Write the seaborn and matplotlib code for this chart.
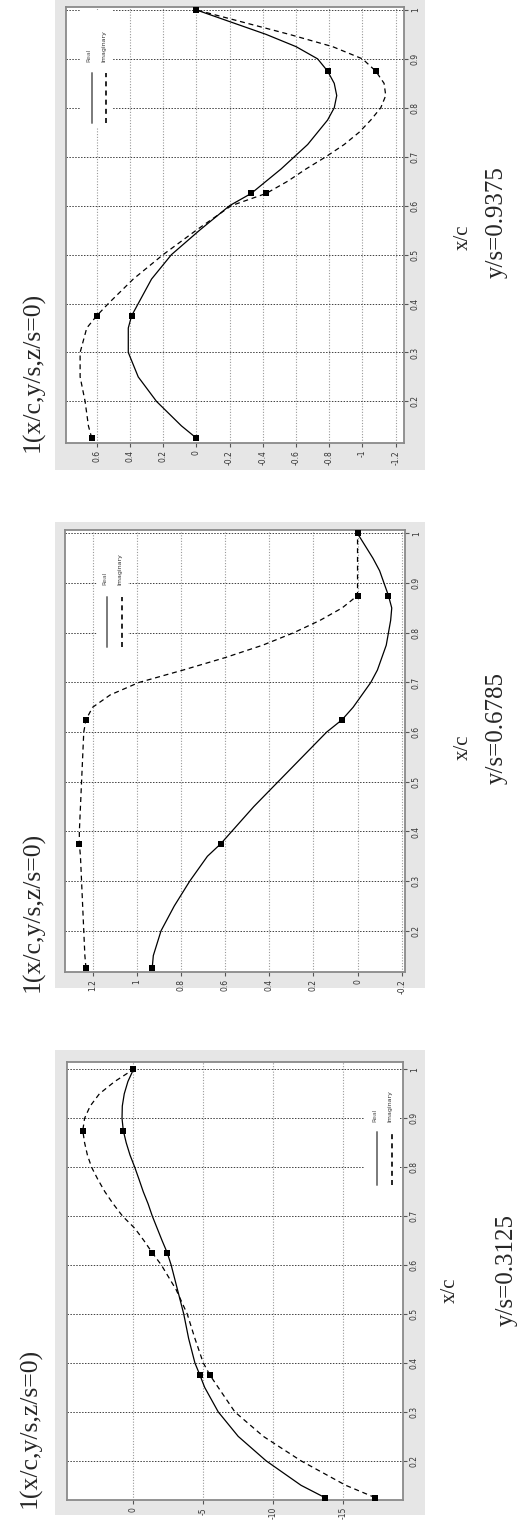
import numpy as np
import pandas as pd
import matplotlib
matplotlib.use("Agg")
import matplotlib.pyplot as plt
import seaborn as sns
from matplotlib.patches import Rectangle

sns.set_theme(style="white")
plt.rcParams['font.family'] = ['DejaVu Sans']

# ---------------- data ----------------
xc_curve = [0.125, 0.15, 0.2, 0.25, 0.3, 0.35, 0.375, 0.4, 0.45, 0.5, 0.55, 0.6,
            0.625, 0.65, 0.675, 0.7, 0.725, 0.75, 0.775, 0.8, 0.825, 0.85,
            0.875, 0.9, 0.925, 0.95, 0.975, 1.0]
xc_marks = [0.125, 0.375, 0.625, 0.875, 1.0]

# y/s = 0.9375
real_a = [0.0, 0.09, 0.24, 0.35, 0.41, 0.41, 0.39, 0.35, 0.27, 0.15, -0.02, -0.20,
          -0.33, -0.42, -0.51, -0.59, -0.67, -0.73, -0.79, -0.83, -0.845, -0.83,
          -0.79, -0.73, -0.60, -0.42, -0.21, 0.0]
imag_a = [0.63, 0.65, 0.67, 0.70, 0.70, 0.66, 0.60, 0.53, 0.38, 0.20, 0.0, -0.21,
          -0.42, -0.55, -0.66, -0.78, -0.89, -0.98, -1.05, -1.11, -1.14, -1.13,
          -1.08, -1.0, -0.82, -0.56, -0.28, 0.0]
real_a_marks = [0.0, 0.39, -0.33, -0.79, 0.0]
imag_a_marks = [0.63, 0.60, -0.42, -1.08, 0.0]

# y/s = 0.6785
real_b = [0.93, 0.925, 0.89, 0.83, 0.76, 0.68, 0.62, 0.57, 0.47, 0.36, 0.25, 0.14,
          0.07, 0.02, -0.02, -0.06, -0.09, -0.11, -0.13, -0.14, -0.15, -0.155,
          -0.14, -0.12, -0.10, -0.07, -0.035, 0.0]
imag_b = [1.23, 1.235, 1.24, 1.245, 1.25, 1.255, 1.26, 1.26, 1.255, 1.25, 1.245, 1.24,
          1.23, 1.2, 1.12, 0.99, 0.79, 0.6, 0.43, 0.29, 0.17, 0.07,
          0.0, 0.0, 0.0, 0.0, 0.0, 0.0]
real_b_marks = [0.93, 0.62, 0.07, -0.14, 0.0]
imag_b_marks = [1.23, 1.26, 1.23, 0.0, 0.0]

# y/s = 0.3125
real_c = [-13.7, -12.0, -9.5, -7.5, -6.07, -5.1, -4.76, -4.4, -3.95, -3.6, -3.15, -2.7,
          -2.42, -2.05, -1.7, -1.35, -1.05, -0.7, -0.4, -0.09, 0.25, 0.52,
          0.73, 0.82, 0.8, 0.66, 0.4, 0.0]
imag_c = [-17.3, -15.2, -12.0, -9.3, -7.26, -6.07, -5.48, -5.0, -4.4, -3.85, -3.05, -2.0,
          -1.35, -0.75, -0.1, 0.78, 1.45, 2.05, 2.55, 3.0, 3.3, 3.5,
          3.63, 3.5, 3.1, 2.44, 1.35, 0.0]
real_c_marks = [-13.7, -4.76, -2.42, 0.73, 0.0]
imag_c_marks = [-17.3, -5.48, -1.35, 3.63, 0.0]

xc_ticks = [0.2, 0.3, 0.4, 0.5, 0.6, 0.7, 0.8, 0.9, 1.0]
xc_ticklabels = ["0.2", "0.3", "0.4", "0.5", "0.6", "0.7", "0.8", "0.9", "1"]

val_ticks_a = [0.6, 0.4, 0.2, 0.0, -0.2, -0.4, -0.6, -0.8, -1.0, -1.2]
val_labels_a = ["0.6", "0.4", "0.2", "0", "-0.2", "-0.4", "-0.6", "-0.8", "-1", "-1.2"]
val_ticks_b = [1.2, 1.0, 0.8, 0.6, 0.4, 0.2, 0.0, -0.2]
val_labels_b = ["1.2", "1", "0.8", "0.6", "0.4", "0.2", "0", "-0.2"]
val_ticks_c = [0, -5, -10, -15]
val_labels_c = ["0", "-5", "-10", "-15"]

title_text = "1(x/c,y/s,z/s=0)"
xlabel_text = "x/c"
span_labels = ["y/s=0.9375", "y/s=0.6785", "y/s=0.3125"]
legend_labels = ["Real", "Imaginary"]

# ---------------- figure ----------------
W, H = 517, 1528
fig = plt.figure(figsize=(W / 100, H / 100), dpi=100)
fig.patch.set_facecolor("white")


def fx(px):
    return px / W


def fy(py):
    return 1 - py / H


panels = [
    dict(real=real_a, imag=imag_a, rm=real_a_marks, im=imag_a_marks,
         ticks=val_ticks_a, labels=val_labels_a, xlim=(0.785, -1.25), ylim=(0.115, 1.006),
         ax=(66, 7, 404, 443), grey=(55, 0, 425, 470),
         title=(33, 372), xl=(463, 237), sl=(497, 222), label=span_labels[0],
         leg=dict(box=(0.041, 0.722, 0.136, 0.993), lx=(0.077, 0.118),
                  ly=(0.734, 0.849), ty=0.874)),
    dict(real=real_b, imag=imag_b, rm=real_b_marks, im=imag_b_marks,
         ticks=val_ticks_b, labels=val_labels_b, xlim=(1.325, -0.215), ylim=(0.117, 1.007),
         ax=(65, 530, 405, 972), grey=(55, 522, 425, 988),
         title=(33, 912), xl=(463, 747), sl=(497, 728), label=span_labels[1],
         leg=dict(box=(0.094, 0.729, 0.185, 0.984), lx=(0.124, 0.168),
                  ly=(0.735, 0.848), ty=0.876)),
    dict(real=real_c, imag=imag_c, rm=real_c_marks, im=imag_c_marks,
         ticks=val_ticks_c, labels=val_labels_c, xlim=(4.76, -19.3), ylim=(0.12, 1.015),
         ax=(67, 1062, 403, 1500), grey=(55, 1050, 425, 1515),
         title=(30, 1428), xl=(450, 1290), sl=(507, 1270), label=span_labels[2],
         leg=dict(box=(0.887, 0.708, 0.991, 0.982), lx=(0.923, 0.967),
                  ly=(0.719, 0.840), ty=0.863)),
]

for p in panels:
    gx0, gy0, gx1, gy1 = p["grey"]
    fig.add_artist(Rectangle((fx(gx0), fy(gy1)), fx(gx1) - fx(gx0), fy(gy0) - fy(gy1),
                             transform=fig.transFigure, facecolor="#e6e6e6",
                             edgecolor="none", zorder=-10))
    x0, y0, x1, y1 = p["ax"]
    ax = fig.add_axes([fx(x0), fy(y1), fx(x1) - fx(x0), fy(y0) - fy(y1)])
    ax.set_facecolor("white")

    df = pd.DataFrame({
        "xc": xc_curve * 2,
        "value": list(p["real"]) + list(p["imag"]),
        "series": [legend_labels[0]] * len(xc_curve) + [legend_labels[1]] * len(xc_curve),
    })
    sns.lineplot(data=df, x="value", y="xc", style="series",
                 dashes={legend_labels[0]: "", legend_labels[1]: (4, 3)},
                 color="black", linewidth=0.9, sort=False, estimator=None,
                 legend=False, ax=ax, zorder=3)
    mk = pd.DataFrame({"xc": xc_marks * 2, "value": list(p["rm"]) + list(p["im"])})
    sns.scatterplot(data=mk, x="value", y="xc", marker="s", color="black", s=22,
                    linewidth=0, ax=ax, zorder=4)

    ax.set_xlim(*p["xlim"])
    ax.set_ylim(*p["ylim"])
    ax.set_xticks(p["ticks"])
    ax.set_xticklabels(p["labels"])
    ax.set_yticks(xc_ticks)
    ax.set_yticklabels(xc_ticklabels)
    ax.yaxis.tick_right()
    ax.set_xlabel("")
    ax.set_ylabel("")
    ax.tick_params(axis="both", direction="out", length=3, width=0.8, color="#555",
                   labelsize=5.5, labelcolor="#333", pad=2)
    ax.tick_params(axis="x", labelrotation=90, bottom=True)
    ax.tick_params(axis="y", labelrotation=90, right=True, left=False)
    for lab in ax.get_yticklabels():
        lab.set_va("center")
        lab.set_ha("left")

    ax.xaxis.grid(True, color="#9a9a9a", linestyle=(0, (1, 1.5)), linewidth=0.8)
    ax.yaxis.grid(True, color="#404040", linestyle=(0, (1.5, 1.5)), linewidth=0.7)
    ax.set_axisbelow(True)
    for sp in ax.spines.values():
        sp.set_color("#8a8a8a")
        sp.set_linewidth(1.3)

    # legend (rotated, no frame)
    lg = p["leg"]
    bx0, by0, bx1, by1 = lg["box"]
    ax.add_patch(Rectangle((bx0, by0), bx1 - bx0, by1 - by0, transform=ax.transAxes,
                           facecolor="white", edgecolor="none", zorder=2))
    ax.plot([lg["lx"][0]] * 2, list(lg["ly"]), transform=ax.transAxes,
            color="#7a7a7a", linewidth=1.4, zorder=5)
    ax.plot([lg["lx"][1]] * 2, list(lg["ly"]), transform=ax.transAxes,
            color="black", linewidth=1.2, dashes=(3, 2.5), zorder=5)
    ax.text(lg["lx"][0] - 0.008, lg["ty"], legend_labels[0], transform=ax.transAxes,
            rotation=90, ha="center", va="bottom", fontsize=4.5, color="#555", zorder=5)
    ax.text(lg["lx"][1] - 0.006, lg["ty"], legend_labels[1], transform=ax.transAxes,
            rotation=90, ha="center", va="bottom", fontsize=4.5, color="#333", zorder=5)

    # titles / labels (rotated with the figure)
    fig.text(fx(p["title"][0]), fy(p["title"][1]), title_text, rotation=90,
             ha="center", va="center", fontsize=18.5, family="Liberation Serif")
    fig.text(fx(p["xl"][0]), fy(p["xl"][1]), xlabel_text, rotation=90,
             ha="center", va="center", fontsize=15, family="Liberation Serif")
    fig.text(fx(p["sl"][0]), fy(p["sl"][1]), p["label"], rotation=90,
             ha="center", va="center", fontsize=18, family="Liberation Serif")

fig.savefig("out.png", dpi=100, facecolor="white")
